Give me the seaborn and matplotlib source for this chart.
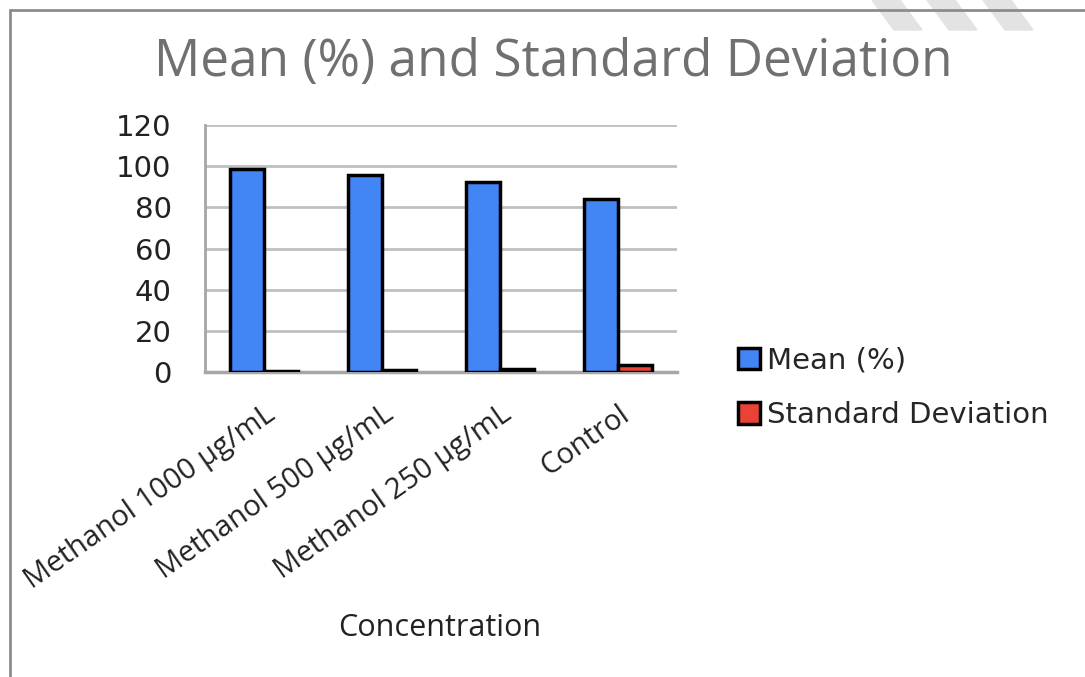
import pandas as pd
import matplotlib.pyplot as plt
import matplotlib.patches as mpatches
import seaborn as sns

categories = ['Methanol 1000 µg/mL', 'Methanol 500 µg/mL', 'Methanol 250 µg/mL', 'Control']
mean_pct = [98.4, 95.9, 92.5, 83.9]
std_dev = [0.4, 0.9, 1.6, 3.6]
series = ['Mean (%)', 'Standard Deviation']
yticks = [0, 20, 40, 60, 80, 100, 120]

df = pd.DataFrame({
    'Concentration': categories * 2,
    'value': mean_pct + std_dev,
    'series': [series[0]] * len(categories) + [series[1]] * len(categories),
})

sns.set_style('white')
plt.rcParams['font.family'] = ['DejaVu Sans']

fig = plt.figure(figsize=(10.85, 6.77), dpi=100)
ax = fig.add_axes([205 / 1085, 1 - 372 / 677, 472 / 1085, 247 / 677])

sns.barplot(data=df, x='Concentration', y='value', hue='series',
            palette=['#4285F4', '#EA4335'], saturation=1, width=0.58, gap=0,
            edgecolor='black', linewidth=2.5, ax=ax, legend=True, zorder=3)

ax.set_ylim(0, 120)
ax.set_yticks(yticks)
ax.set_yticklabels([str(t) for t in yticks], fontsize=21, color='#222222')
ax.tick_params(axis='y', length=0, pad=24)
ax.tick_params(axis='x', length=0, pad=20)
ax.yaxis.grid(True, color='#c0c0c0', linewidth=2, zorder=0)
for s in ['top', 'right']:
    ax.spines[s].set_visible(False)
ax.spines['left'].set_color('#a6a6a6')
ax.spines['left'].set_linewidth(2)
ax.spines['bottom'].set_color('#a6a6a6')
ax.spines['bottom'].set_linewidth(2.5)

ax.set_xticks(range(len(categories)))
ax.set_xticklabels(categories, rotation=35, ha='right', rotation_mode='anchor',
                   fontsize=21, family=['Open Sans', 'DejaVu Sans'], color='#222222')
ax.set_xlabel('Concentration', fontsize=22, family=['Open Sans', 'DejaVu Sans'],
              color='#222222', va='center')
ax.xaxis.set_label_coords((440 - 205) / 472, (372 - 628) / 247)
ax.set_ylabel('')

handles, labels = ax.get_legend_handles_labels()
ax.get_legend().remove()
fig.legend(handles, labels, loc='center left', bbox_to_anchor=(712 / 1085, 1 - 388 / 677),
           frameon=False, fontsize=21, handlelength=0.75, handleheight=0.75,
           handletextpad=0.25, labelspacing=0.9)

fig.suptitle('Mean (%) and Standard Deviation', x=553 / 1085, y=1 - 63 / 677, va='center',
             fontsize=37, color='#707070', family=['Open Sans', 'DejaVu Sans'])

# page frame and watermark stripes
fig.add_artist(plt.Line2D([10 / 1085, 10 / 1085], [0, 1 - 10 / 677], transform=fig.transFigure,
                          color='#8c8c8c', linewidth=2))
fig.add_artist(plt.Line2D([10 / 1085, 1], [1 - 10 / 677, 1 - 10 / 677], transform=fig.transFigure,
                          color='#8c8c8c', linewidth=2))
for x0, x1 in [(872, 900), (927, 955), (983, 1011)]:
    pts = [(x0, 0), (x1, 0), (x1 + 22, 30), (x0 + 22, 30)]
    fig.add_artist(mpatches.Polygon([(px / 1085, 1 - py / 677) for px, py in pts], closed=True,
                                    transform=fig.transFigure, color='#e3e3e3', zorder=0))

fig.savefig('out.png', dpi=100, facecolor='white')
